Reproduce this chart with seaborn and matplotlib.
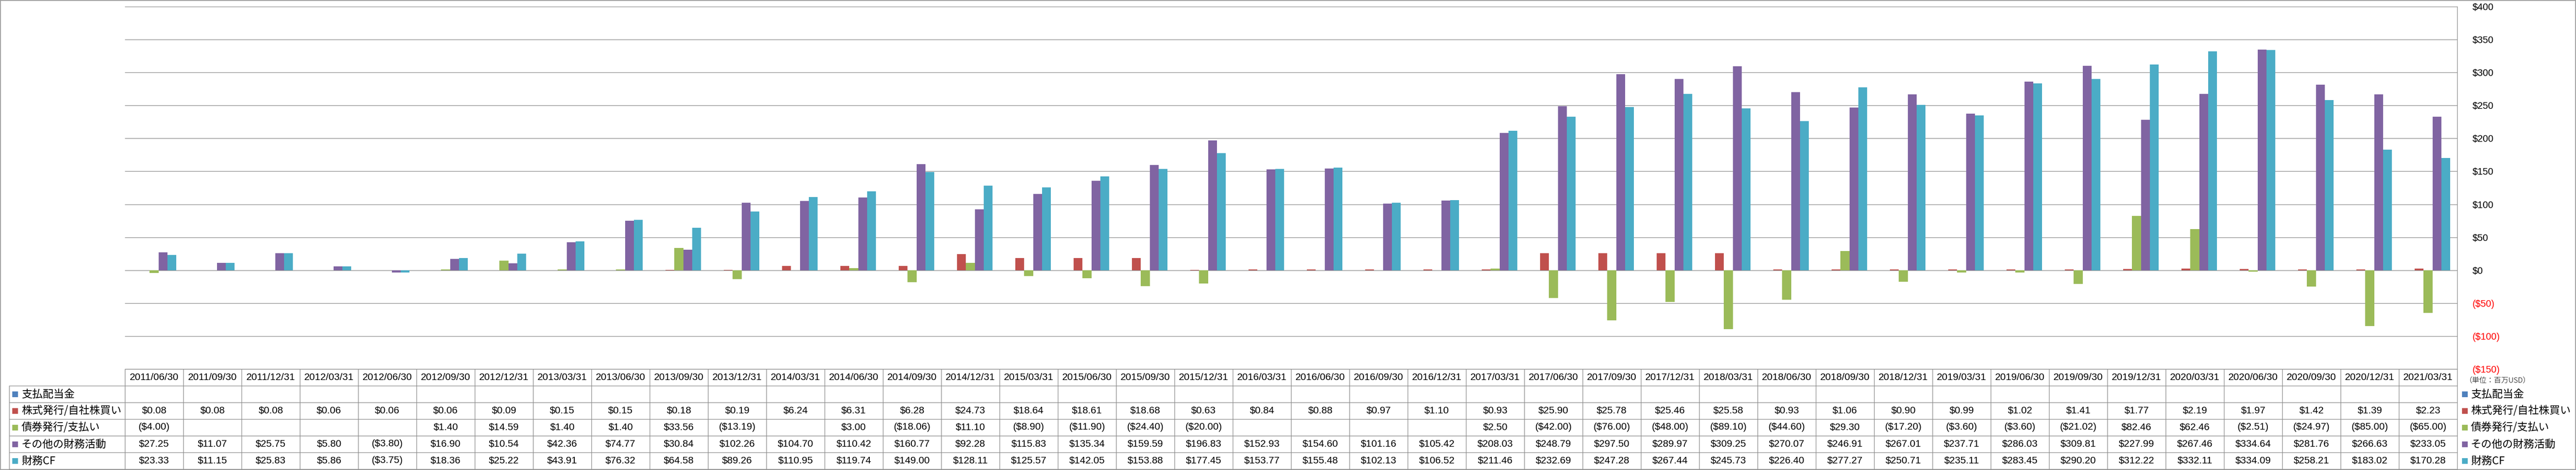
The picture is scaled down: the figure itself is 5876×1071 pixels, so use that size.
import numpy as np
import pandas as pd
import matplotlib
matplotlib.use("Agg")
import matplotlib.pyplot as plt
import matplotlib.transforms as mtransforms
from matplotlib.patches import Rectangle
import seaborn as sns

NA = np.nan

dates = ["2011/06/30", "2011/09/30", "2011/12/31", "2012/03/31", "2012/06/30",
         "2012/09/30", "2012/12/31", "2013/03/31", "2013/06/30", "2013/09/30",
         "2013/12/31", "2014/03/31", "2014/06/30", "2014/09/30", "2014/12/31",
         "2015/03/31", "2015/06/30", "2015/09/30", "2015/12/31", "2016/03/31",
         "2016/06/30", "2016/09/30", "2016/12/31", "2017/03/31", "2017/06/30",
         "2017/09/30", "2017/12/31", "2018/03/31", "2018/06/30", "2018/09/30",
         "2018/12/31", "2019/03/31", "2019/06/30", "2019/09/30", "2019/12/31",
         "2020/03/31", "2020/06/30", "2020/09/30", "2020/12/31", "2021/03/31"]

series_names = ["支払配当金", "株式発行/自社株買い", "債券発行/支払い", "その他の財務活動", "財務CF"]

dividends = [NA, NA, NA, NA, NA, NA, NA, NA, NA, NA,
             NA, NA, NA, NA, NA, NA, NA, NA, NA, NA,
             NA, NA, NA, NA, NA, NA, NA, NA, NA, NA,
             NA, NA, NA, NA, NA, NA, NA, NA, NA, NA]

stock = [0.08, 0.08, 0.08, 0.06, 0.06, 0.06, 0.09, 0.15, 0.15, 0.18,
         0.19, 6.24, 6.31, 6.28, 24.73, 18.64, 18.61, 18.68, 0.63, 0.84,
         0.88, 0.97, 1.10, 0.93, 25.90, 25.78, 25.46, 25.58, 0.93, 1.06,
         0.90, 0.99, 1.02, 1.41, 1.77, 2.19, 1.97, 1.42, 1.39, 2.23]

bonds = [-4.00, NA, NA, NA, NA, 1.40, 14.59, 1.40, 1.40, 33.56,
         -13.19, NA, 3.00, -18.06, 11.10, -8.90, -11.90, -24.40, -20.00, NA,
         NA, NA, NA, 2.50, -42.00, -76.00, -48.00, -89.10, -44.60, 29.30,
         -17.20, -3.60, -3.60, -21.02, 82.46, 62.46, -2.51, -24.97, -85.00, -65.00]

other = [27.25, 11.07, 25.75, 5.80, -3.80, 16.90, 10.54, 42.36, 74.77, 30.84,
         102.26, 104.70, 110.42, 160.77, 92.28, 115.83, 135.34, 159.59, 196.83, 152.93,
         154.60, 101.16, 105.42, 208.03, 248.79, 297.50, 289.97, 309.25, 270.07, 246.91,
         267.01, 237.71, 286.03, 309.81, 227.99, 267.46, 334.64, 281.76, 266.63, 233.05]

fin_cf = [23.33, 11.15, 25.83, 5.86, -3.75, 18.36, 25.22, 43.91, 76.32, 64.58,
          89.26, 110.95, 119.74, 149.00, 128.11, 125.57, 142.05, 153.88, 177.45, 153.77,
          155.48, 102.13, 106.52, 211.46, 232.69, 247.28, 267.44, 245.73, 226.40, 277.27,
          250.71, 235.11, 283.45, 290.20, 312.22, 332.11, 334.09, 258.21, 183.02, 170.28]

y_ticks = [-150, -100, -50, 0, 50, 100, 150, 200, 250, 300, 350, 400]
unit_label = "（単位：百万USD）"

colors = ["#4F81BD", "#C0504D", "#9BBB59", "#8064A2", "#4BACC6"]
series_values = [dividends, stock, bonds, other, fin_cf]

# ---- long-form table ----
rows = []
for name, vals in zip(series_names, series_values):
    for d, v in zip(dates, vals):
        rows.append({"date": d, "series": name, "value": v})
df = pd.DataFrame(rows)

sns.set_style("white")
plt.rcParams["font.family"] = ["Liberation Sans", "Noto Sans CJK JP", "DejaVu Sans"]

W, H = 5876, 1071
DPI = 100
fig = plt.figure(figsize=(W / DPI, H / DPI), dpi=DPI)
fig.patch.set_facecolor("white")

# plot area in pixel layout
px_left, px_right = 285, 5605
px_top, px_bottom = 15, 841
ax = fig.add_axes([px_left / W, (H - px_bottom) / H,
                   (px_right - px_left) / W, (px_bottom - px_top) / H])

grid_c = "#8C8C8C"

sns.barplot(data=df, x="date", y="value", hue="series", order=dates,
            hue_order=series_names, palette=dict(zip(series_names, colors)),
            width=0.76, saturation=1, errorbar=None, linewidth=0,
            legend=False, ax=ax)

ax.set_xlim(-0.5, len(dates) - 0.5)
ax.set_ylim(y_ticks[0], y_ticks[-1])
ax.set_yticks(y_ticks)
ax.yaxis.tick_right()


def money_tick(v):
    return f"${v:,.0f}" if v >= 0 else f"(${-v:,.0f})"


ax.set_yticklabels([money_tick(v) for v in y_ticks])
for lab, v in zip(ax.get_yticklabels(), y_ticks):
    lab.set_color("#FF0000" if v < 0 else "black")
    lab.set_fontsize(15.7)
ax.tick_params(axis="y", length=0, pad=25)
ax.set_xticks([])
ax.set_xlabel("")
ax.set_ylabel("")
ax.grid(axis="y", color=grid_c, linewidth=1.0)
ax.set_axisbelow(True)
for s in ["top", "left", "bottom"]:
    ax.spines[s].set_visible(False)
ax.spines["right"].set_color(grid_c)
ax.spines["right"].set_linewidth(1.0)
ax.patch.set_alpha(0)

# ---- overlay for table / legend / border ----
ov = fig.add_axes([0, 0, 1, 1])
ov.set_xlim(0, W)
ov.set_ylim(H, 0)
ov.axis("off")
ov.patch.set_alpha(0)

blend = mtransforms.blended_transform_factory(ax.transData, ov.transData)

tab_top = 841
row_edges = [879, 917, 955, 993, 1031, 1069]
lab_left = 21
line_kw = dict(color=grid_c, linewidth=1.0)

# horizontal lines
ov.plot([px_left, px_right], [tab_top, tab_top], **line_kw)
for y in row_edges:
    ov.plot([lab_left, px_right], [y, y], **line_kw)
# vertical lines
ov.plot([lab_left, lab_left], [row_edges[0], row_edges[-1]], **line_kw)
for i in range(len(dates) + 1):
    ov.plot([i - 0.5, i - 0.5], [tab_top, row_edges[-1]], transform=blend, **line_kw)

num_fs = 16.2


def money(v):
    if v is None or (isinstance(v, float) and np.isnan(v)):
        return ""
    return f"${v:,.2f}" if v >= 0 else f"(${-v:,.2f})"


for i, d in enumerate(dates):
    ov.text(i, (tab_top + row_edges[0]) / 2, d, transform=blend,
            ha="center", va="center", fontsize=num_fs, color="black")

for r, (name, vals, col) in enumerate(zip(series_names, series_values, colors)):
    yc = (row_edges[r] + row_edges[r + 1]) / 2
    for i, v in enumerate(vals):
        t = money(v)
        if t:
            ov.text(i, yc, t, transform=blend, ha="center", va="center",
                    fontsize=num_fs, color="black")
    # row label with colour key
    ov.add_patch(Rectangle((28, yc - 6.5), 13, 13, facecolor=col, edgecolor="none"))
    ov.text(49, yc + 1, name, ha="left", va="center", fontsize=17.5,
            family=["Noto Sans CJK JP", "DejaVu Sans"], color="black")
    # right legend
    ov.add_patch(Rectangle((5616, yc - 6.5), 13, 13, facecolor=col, edgecolor="none"))
    ov.text(5636, yc + 1, name, ha="left", va="center", fontsize=17.5,
            family=["Noto Sans CJK JP", "DejaVu Sans"], color="black")

ov.text(5622, 867, unit_label, ha="left", va="center", fontsize=12,
        family=["Noto Sans CJK JP", "DejaVu Sans"], color="black", fontweight="light")

# outer border
ov.add_patch(Rectangle((0.5, 0.5), W - 1.5, H - 1.5, facecolor="none",
                       edgecolor=grid_c, linewidth=1.2))

fig.savefig("out.png", dpi=DPI, facecolor="white")
